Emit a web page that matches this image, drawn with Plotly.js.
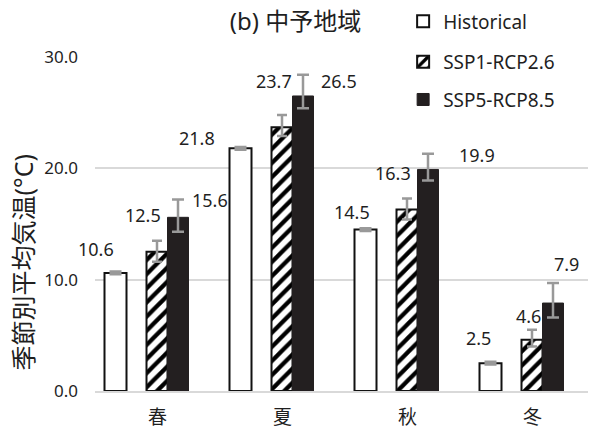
<!DOCTYPE html>
<html>
<head>
<meta charset="utf-8">
<script src="https://cdn.plot.ly/plotly-3.0.1.min.js"></script>
<style>html,body{margin:0;padding:0;background:#fff;}#chart{width:591px;height:430px;}</style>
</head>
<body>
<div id="chart"></div>
<script>
// ---- data ----
const seasons = ['春', '夏', '秋', '冬'];
const histVals = [10.6, 21.8, 14.5, 2.5];
const ssp1Vals = [12.5, 23.7, 16.3, 4.6];
const ssp5Vals = [15.6, 26.5, 19.9, 7.9];
const histErr = [0.1, 0.1, 0.1, 0.1];
const ssp1ErrPlus = [1.0, 1.1, 1.0, 0.9];
const ssp1ErrMinus = [0.9, 0.8, 0.9, 0.6];
const ssp5ErrPlus = [1.6, 1.9, 1.4, 1.8];
const ssp5ErrMinus = [1.3, 1.1, 1.0, 1.3];
const seriesNames = ['Historical', 'SSP1-RCP2.6', 'SSP5-RCP8.5'];

// ---- label placement (pixel shifts, styling only) ----
const histShift = [[-62, 24], [-86, 10], [-56, 18], [-54, 25]];
const ssp1Shift = [[-15, 37], [-9, 46], [-15, 37], [-4, 24]];
const ssp5Shift = [[52, 17], [56, 15], [69, 14], [34, 39]];

const FONT = 'Noto Sans, Noto Sans CJK JP, sans-serif';
const TXT = '#1f1f1f';
const ERRC = '#999999';

const traces = [
  {
    type: 'bar', name: seriesNames[0], x: seasons, y: histVals,
    offset: -0.424, width: 0.176, legend: 'legend', legendgroup: 'g1',
    marker: {color: '#ffffff', line: {color: '#111111', width: 2}},
    error_y: {type: 'data', array: histErr, color: ERRC, thickness: 3, width: 6},
    hoverinfo: 'skip'
  },
  {
    type: 'bar', name: seriesNames[1], x: seasons, y: ssp1Vals,
    offset: -0.088, width: 0.168, legend: 'legend2', legendgroup: 'g2',
    marker: {color: '#ffffff', line: {color: '#111111', width: 2},
      pattern: {shape: '/', fgcolor: '#000000', bgcolor: '#ffffff', size: 10, solidity: 0.42, fgopacity: 1}},
    error_y: {type: 'data', symmetric: false, array: ssp1ErrPlus, arrayminus: ssp1ErrMinus, color: ERRC, thickness: 2.5, width: 5},
    hoverinfo: 'skip'
  },
  {
    type: 'bar', name: seriesNames[2], x: seasons, y: ssp5Vals,
    offset: 0.08, width: 0.168, legend: 'legend2', legendgroup: 'g3',
    marker: {color: '#231f20', line: {color: '#231f20', width: 1}},
    error_y: {type: 'data', symmetric: false, array: ssp5ErrPlus, arrayminus: ssp5ErrMinus, color: ERRC, thickness: 2.5, width: 6},
    hoverinfo: 'skip'
  }
];

const annotations = [];
function addLabels(vals, shifts) {
  vals.forEach((v, i) => {
    annotations.push({
      xref: 'x', yref: 'y', x: seasons[i], y: v, text: v.toFixed(1),
      showarrow: false, xanchor: 'center', yanchor: 'middle',
      xshift: shifts[i][0], yshift: shifts[i][1],
      font: {family: FONT, size: 18, color: TXT}
    });
  });
}
addLabels(histVals, histShift);
addLabels(ssp1Vals, ssp1Shift);
addLabels(ssp5Vals, ssp5Shift);

annotations.push({
  xref: 'paper', yref: 'paper', x: -0.146, y: 0.385, textangle: -90,
  text: '季節別平均気温(°C)', showarrow: false, xanchor: 'center', yanchor: 'middle',
  font: {family: FONT, size: 25, color: TXT}
});

const legendFont = {family: FONT, size: 19, color: TXT};
const layout = {
  width: 591, height: 430,
  margin: {l: 95, r: 3, t: 56, b: 39},
  paper_bgcolor: '#ffffff', plot_bgcolor: '#ffffff',
  barmode: 'overlay',
  showlegend: true,
  title: {text: '(b) 中予地域', x: 0.5, xanchor: 'center', xref: 'container', y: 0.95, yanchor: 'middle',
    font: {family: FONT, size: 24, color: TXT}},
  legend: {x: 0.625, xanchor: 'left', y: 1.16, yanchor: 'top',
    font: legendFont, bgcolor: 'rgba(0,0,0,0)'},
  legend2: {x: 0.625, xanchor: 'left', y: 1.039, yanchor: 'top', traceorder: 'grouped', tracegroupgap: 10,
    font: legendFont, bgcolor: 'rgba(0,0,0,0)'},
  xaxis: {
    type: 'category', range: [-0.5, 3.444], showgrid: false, zeroline: false,
    showline: true, linecolor: '#d9d9d9', linewidth: 2, ticks: '',
    tickfont: {family: FONT, size: 19, color: TXT}, ticklabelstandoff: 8, fixedrange: true
  },
  yaxis: {
    range: [0, 30], tickvals: [0, 10, 20, 30], tickformat: '.1f',
    showgrid: true, gridcolor: '#d9d9d9', gridwidth: 2, zeroline: false, showline: false, ticks: '',
    tickfont: {family: FONT, size: 17, color: TXT}, ticklabelstandoff: 16, fixedrange: true
  },
  annotations: annotations
};

Plotly.newPlot('chart', traces, layout, {displayModeBar: false, staticPlot: true});
</script>
</body>
</html>
